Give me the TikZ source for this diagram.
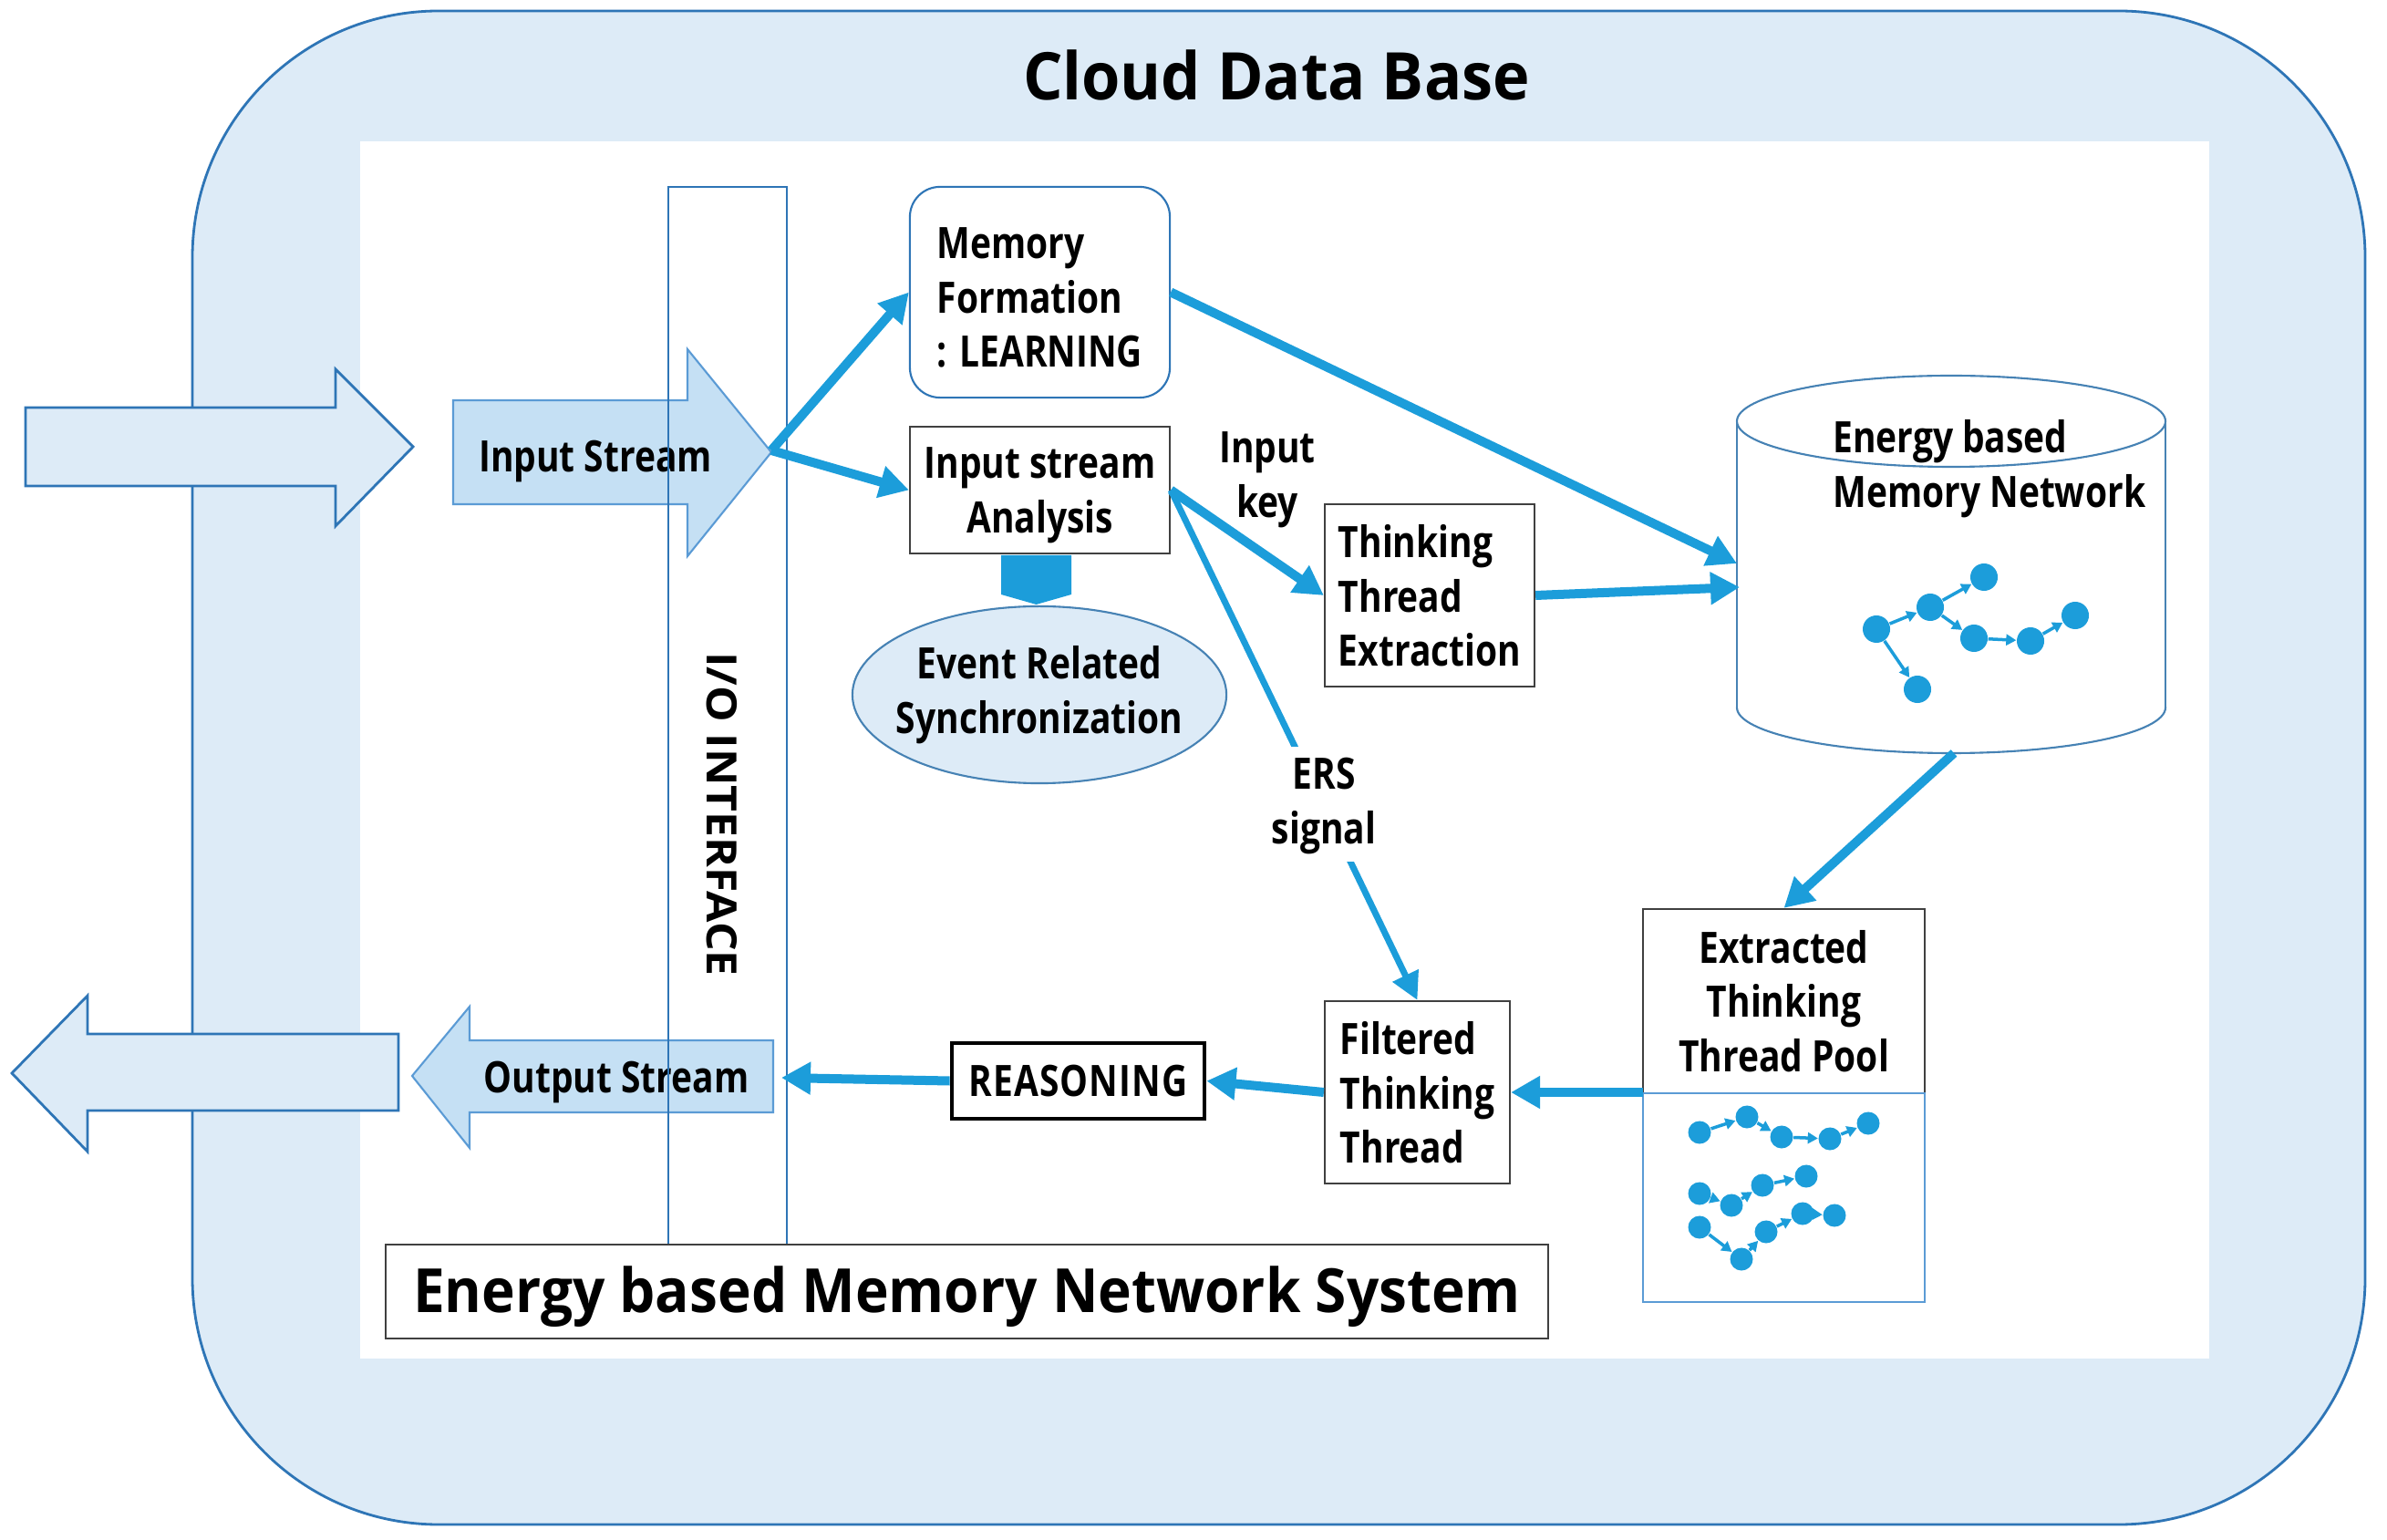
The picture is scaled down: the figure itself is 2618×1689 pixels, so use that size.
\documentclass[tikz,border=0pt]{standalone}
\usepackage{fontspec}
\setmainfont{Open Sans}[FakeStretch=0.82]
\newfontfamily\titlefont{Open Sans}[FakeStretch=0.95]
\newfontfamily\sysfont{Open Sans}[FakeStretch=0.93]
\newfontfamily\iofont{Open Sans}[FakeStretch=1.09]
\usetikzlibrary{arrows.meta,shapes.geometric}
\definecolor{outerfill}{RGB}{221,235,247}
\definecolor{outerline}{RGB}{46,117,182}
\definecolor{flowblue}{RGB}{28,157,218}
\definecolor{streamfill}{RGB}{197,224,244}
\definecolor{streamline}{RGB}{91,155,213}
\definecolor{boxline}{RGB}{64,64,64}
\definecolor{cylline}{RGB}{70,130,180}
\begin{document}
\begin{tikzpicture}[x=0.01cm,y=-0.01cm,
  txt/.style={font=\bfseries\fontsize{13.5}{17}\selectfont, text=black},
  box/.style={txt, draw=boxline, line width=0.6pt, fill=white, rectangle, inner sep=0pt},
  flow/.style={draw=flowblue, line width=0.1cm, -{Triangle[length=0.32cm,width=0.34cm]}},
  thinflow/.style={draw=flowblue, line width=0.07cm, -{Triangle[length=0.3cm,width=0.3cm]}},
  bigarrow/.style={fill=outerfill, draw=outerline, line width=0.8pt, line join=miter},
  streamarrow/.style={fill=streamfill, draw=streamline, line width=0.6pt},
  gnode/.style={circle, fill=flowblue, inner sep=0pt, minimum size=0.3cm},
  pnode/.style={circle, fill=flowblue, inner sep=0pt, minimum size=0.25cm},
  garrow/.style={draw=flowblue, line width=0.035cm, -{Triangle[length=0.11cm,width=0.12cm]}}
]
\useasboundingbox (0,0) rectangle (2618,1689);
% outer cloud frame
\draw[fill=outerfill, draw=outerline, line width=0.8pt, rounded corners=2.7cm] (211,12) rectangle (2594,1672);
\node[font=\titlefont\bfseries\fontsize{20.5}{24}\selectfont, anchor=base] (title) at (1400,110) {Cloud Data Base};
\fill[white] (395,155) rectangle (2423,1490);
% big in/out arrows
\draw[bigarrow] (28,447) -- (368,447) -- (368,405) -- (453,490) -- (368,577) -- (368,533) -- (28,533) -- cycle;
\draw[bigarrow] (437,1134) -- (96,1134) -- (96,1092) -- (13,1177) -- (96,1263) -- (96,1218) -- (437,1218) -- cycle;
% stream arrows
\draw[streamarrow] (497,439) -- (754,439) -- (754,383) -- (846,496) -- (754,610) -- (754,553) -- (497,553) -- cycle;
\draw[streamarrow] (848,1141) -- (515,1141) -- (515,1104) -- (452,1180) -- (515,1259) -- (515,1220) -- (848,1220) -- cycle;
\node[txt, anchor=base] (instr) at (653,518) {Input Stream};
\node[txt, anchor=base] (outstr) at (676,1198) {Output Stream};
% I/O interface
\node[draw=outerline, line width=0.5pt, minimum width=1.3cm, minimum height=11.6cm, inner sep=0pt] (io) at (798,785) {};
\node[rotate=-90, font=\iofont\bfseries\fontsize{13}{16}\selectfont] (iotext) at (792,893) {I/O INTERFACE};
% system label
\node[box, minimum width=12.75cm, minimum height=1.03cm, text height=0.46cm, text depth=0cm, font=\sysfont\bfseries\fontsize{19}{23}\selectfont] (sys) at (1060.5,1416.5) {Energy based Memory Network System};
% boxes
\node[box, draw=outerline, rounded corners=0.33cm, minimum width=2.85cm, minimum height=2.31cm, align=left] (memf) at (1140.5,320.5) {\rule{0pt}{13pt}Memory\\Formation\\: LEARNING};
\node[box, minimum width=2.85cm, minimum height=1.39cm, align=center, text depth=-0.06cm] (isa) at (1140.5,537.5) {Input stream\\Analysis};
\fill[flowblue] (1098,609) -- (1175,609) -- (1175,652) -- (1136.5,663) -- (1098,652) -- cycle;
\node[ellipse, draw=cylline, line width=0.6pt, fill=outerfill, minimum width=4.1cm, minimum height=1.94cm, inner xsep=-0.2cm, inner ysep=0pt, txt, align=center] (ers) at (1140,762) {Event Related\\Synchronization};
\node[box, minimum width=2.3cm, minimum height=2cm, align=left, text depth=-0.1cm] (tte) at (1568,653) {Thinking\\Thread\\Extraction};
\node[box, minimum width=2.03cm, minimum height=2cm, align=left, text depth=-0.12cm] (ftt) at (1554.5,1198) {Filtered\\Thinking\\Thread};
\node[box, minimum width=3.09cm, minimum height=2.02cm, align=center] (pool) at (1956.5,1098) {Extracted\\Thinking\\Thread Pool};
\node[draw=streamline, line width=0.6pt, fill=white, minimum width=3.09cm, minimum height=2.29cm, inner sep=0pt] (poolg) at (1956.5,1313.5) {};
\node[box, draw=black, line width=1.3pt, minimum width=2.77cm, minimum height=0.83cm, font=\bfseries\fontsize{13.5}{17}\selectfont\addfontfeature{LetterSpace=2.3}] (reas) at (1182.5,1185.5) {REASONING};
% cylinder
\draw[draw=cylline, line width=0.6pt, fill=white] (2140,776) ellipse [x radius=235, y radius=50];
\fill[white] (1905,462) rectangle (2375,776);
\draw[draw=cylline, line width=0.6pt] (1905,462) -- (1905,776) (2375,462) -- (2375,776);
\draw[draw=cylline, line width=0.6pt, fill=white] (2140,462) ellipse [x radius=235, y radius=50];
\node[txt, align=left, anchor=west, text depth=0.034cm] (cyltext) at (1998,510) {Energy based\\Memory Network};
% graph in cylinder
\node[gnode] (c1) at (2058,690) {};
\node[gnode] (c2) at (2117,666) {};
\node[gnode] (c3) at (2176,633) {};
\node[gnode] (c4) at (2165,700) {};
\node[gnode] (c5) at (2227,703) {};
\node[gnode] (c6) at (2276,675) {};
\node[gnode] (c7) at (2103,756) {};
\draw[garrow] (c1) -- (c2);
\draw[garrow] (c2) -- (c3);
\draw[garrow] (c2) -- (c4);
\draw[garrow] (c4) -- (c5);
\draw[garrow] (c5) -- (c6);
\draw[garrow] (c1) -- (c7);
% graphs in pool
\node[pnode] (p11) at (1864,1242) {};
\node[pnode] (p12) at (1916,1225) {};
\node[pnode] (p13) at (1954,1247) {};
\node[pnode] (p14) at (2007,1249) {};
\node[pnode] (p15) at (2049,1232) {};
\node[pnode] (p21) at (1864,1309) {};
\node[pnode] (p22) at (1899,1322) {};
\node[pnode] (p23) at (1933,1300) {};
\node[pnode] (p24) at (1981,1290) {};
\node[pnode] (p31) at (1864,1346) {};
\node[pnode] (p32) at (1910,1381) {};
\node[pnode] (p33) at (1937,1351) {};
\node[pnode] (p34) at (1977,1331) {};
\node[pnode] (p35) at (2012,1333) {};
\foreach \a/\b in {p11/p12,p12/p13,p13/p14,p14/p15,p21/p22,p22/p23,p23/p24,p31/p32,p32/p33,p33/p34,p34/p35}
  \draw[garrow] (\a) -- (\b);
% connector anchors
\coordinate (istip) at (846,494);
\coordinate (cylA) at (1905,618);
\coordinate (cylB) at (1908,644);
\coordinate (cylbot) at (2143,826);
\coordinate (poolL) at (1802,1198);
\coordinate (outR) at (857,1182);
% connectors
\draw[flow] (istip) -- (memf.west);
\draw[flow] (istip) -- (isa.west);
\draw[flow] (memf.east) -- (cylA);
\draw[flow] (isa.east) -- (tte.west);
\draw[thinflow] (isa.east) -- (ftt.north);
\draw[flow] (tte.east) -- (cylB);
\draw[flow] (cylbot) -- (pool.north);
\draw[flow] (poolL) -- (ftt.east);
\draw[flow] (ftt.west) -- (reas.east);
\draw[flow] (reas.west) -- (outR);
% labels
\node[txt, align=center, text depth=0.034cm] (ikey) at (1390,522) {Input\\key};
\node[txt, align=center, fill=white, inner xsep=2pt, inner ysep=0.12cm, text depth=0.074cm] (erslbl) at (1452,882) {ERS\\signal};
\end{tikzpicture}
\end{document}
